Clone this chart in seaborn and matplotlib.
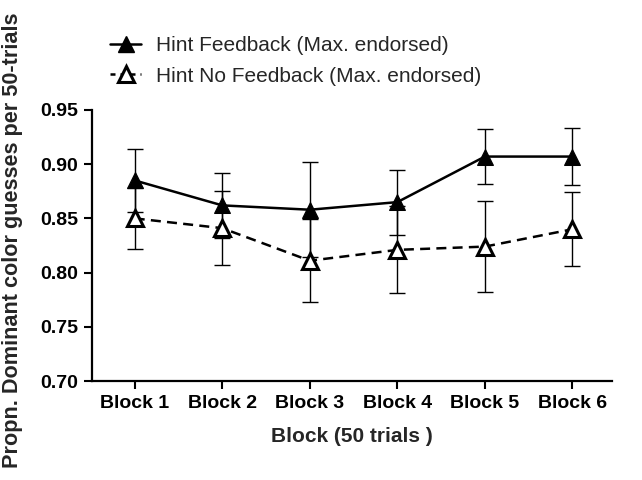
import numpy as np
import pandas as pd
import matplotlib
matplotlib.use("Agg")
import matplotlib.pyplot as plt
import seaborn as sns
from matplotlib.lines import Line2D

blocks = ["Block 1", "Block 2", "Block 3", "Block 4", "Block 5", "Block 6"]
feedback = [0.885, 0.862, 0.858, 0.865, 0.907, 0.907]
feedback_err = [0.029, 0.030, 0.044, 0.030, 0.025, 0.026]
nofeedback = [0.850, 0.841, 0.811, 0.821, 0.824, 0.840]
nofeedback_err = [0.028, 0.034, 0.038, 0.040, 0.042, 0.034]
series_names = ["Hint Feedback (Max. endorsed)", "Hint No Feedback (Max. endorsed)"]

sns.set_theme(style="ticks")
plt.rcParams["font.family"] = ["Liberation Sans", "DejaVu Sans"]

fig = plt.figure(figsize=(6.42, 4.8), dpi=100)
ax = fig.add_axes([0.143, 0.206, 0.81, 0.565])

x = np.arange(len(blocks))
df = pd.DataFrame({"x": np.concatenate([x, x]),
                   "y": feedback + nofeedback,
                   "series": [series_names[0]] * 6 + [series_names[1]] * 6})

ax.errorbar(x, feedback, yerr=feedback_err, fmt="none", ecolor="black",
            elinewidth=1, capsize=6, capthick=1, zorder=2)
ax.errorbar(x, nofeedback, yerr=nofeedback_err, fmt="none", ecolor="black",
            elinewidth=1, capsize=6, capthick=1, zorder=2)

sns.lineplot(data=df[df.series == series_names[0]], x="x", y="y", ax=ax,
             color="black", lw=1.8, marker="^", markersize=11,
             markerfacecolor="black", markeredgecolor="black", zorder=3,
             legend=False)
sns.lineplot(data=df[df.series == series_names[1]], x="x", y="y", ax=ax,
             color="black", lw=1.8, linestyle=(0, (4, 2.5)), marker="^",
             markersize=11, markerfacecolor="white", markeredgecolor="black",
             markeredgewidth=2.2, zorder=3, legend=False)

ax.set_xlim(-0.49, 5.45)
ax.set_ylim(0.70, 0.95)
ax.set_yticks([0.70, 0.75, 0.80, 0.85, 0.90, 0.95])
ax.set_yticklabels(["0.70", "0.75", "0.80", "0.85", "0.90", "0.95"])
ax.set_xticks(x)
ax.set_xticklabels(blocks)
for lab in ax.get_xticklabels() + ax.get_yticklabels():
    lab.set_fontweight("bold")
    lab.set_fontsize(14)
ax.tick_params(axis="both", direction="out", length=6, width=1.5, color="black",
               labelcolor="black", pad=4)
for s in ["top", "right"]:
    ax.spines[s].set_visible(False)
for s in ["left", "bottom"]:
    ax.spines[s].set_linewidth(1.6)
    ax.spines[s].set_color("black")

ax.set_xlabel("Block (50 trials )", fontsize=15, fontweight="bold", labelpad=11)
ax.set_ylabel("")
fig.text(0.019, 0.5, "Propn. Dominant color guesses per 50-trials", rotation=90,
         fontsize=15.6, fontweight="bold", ha="center", va="center")

handles = [
    Line2D([], [], color="black", lw=1.8, marker="^", markersize=11,
           markerfacecolor="black", markeredgecolor="black"),
    Line2D([], [], color="black", lw=1.8, linestyle=(0, (2, 2)), marker="^",
           markersize=11, markerfacecolor="white", markeredgecolor="black",
           markeredgewidth=2.2),
]
fig.legend(handles, series_names, loc="upper left", bbox_to_anchor=(0.159, 0.942),
           frameon=False, fontsize=15, handlelength=1.45, handletextpad=0.75,
           labelspacing=0.55, borderaxespad=0)

fig.savefig("out.png", dpi=100, facecolor="white")
